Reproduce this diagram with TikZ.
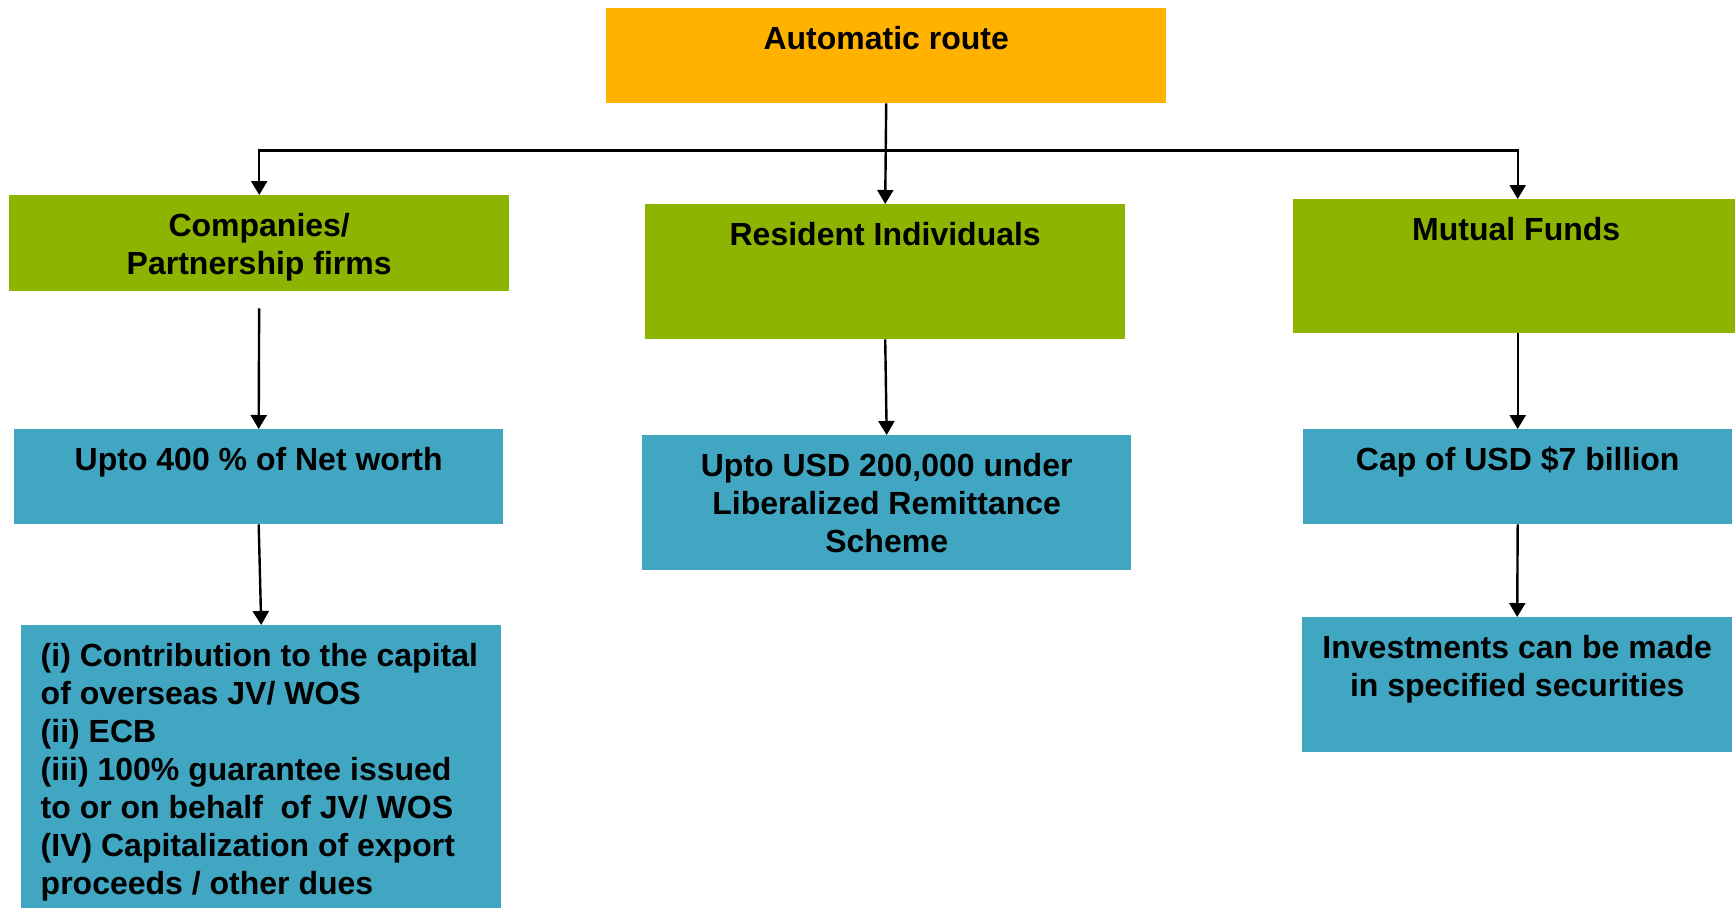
\documentclass[tikz,border=0pt]{standalone}
\usepackage{fontspec}
\setmainfont{Liberation Sans}
\usetikzlibrary{arrows.meta,calc}
\definecolor{orangebox}{RGB}{255,179,0}
\definecolor{greenbox}{RGB}{140,180,0}
\definecolor{bluebox}{RGB}{65,166,193}
\newcommand\myfnt{\fontsize{32}{38}\selectfont\bfseries}
\begin{document}
\begin{tikzpicture}[x=1pt,y=-1pt,
  box/.style={rectangle, draw=none, inner sep=0pt, anchor=north west},
  lbl/.style={anchor=north, inner sep=0pt, align=center, font=\myfnt},
  lbll/.style={anchor=north west, inner sep=0pt, align=left, font=\myfnt},
  arr/.style={-{Triangle[width=16pt,length=14pt]}, line width=2.4pt},
  ln/.style={line width=2.4pt}]
\useasboundingbox (0,0) rectangle (1735,908);
% boxes
\node[box, fill=orangebox, minimum width=560pt, minimum height=95pt] (auto) at (606,8) {};
\node[box, fill=greenbox, minimum width=500pt, minimum height=96pt] (comp) at (9,195) {};
\node[box, fill=greenbox, minimum width=480pt, minimum height=135pt] (res) at (645,204) {};
\node[box, fill=greenbox, minimum width=442pt, minimum height=134pt] (mf) at (1293,199) {};
\node[box, fill=bluebox, minimum width=489pt, minimum height=95pt] (upto) at (14,429) {};
\node[box, fill=bluebox, minimum width=489pt, minimum height=135pt] (usd) at (642,435) {};
\node[box, fill=bluebox, minimum width=429pt, minimum height=95pt] (cap) at (1303,429) {};
\node[box, fill=bluebox, minimum width=480pt, minimum height=283pt] (list) at (21,625) {};
\node[box, fill=bluebox, minimum width=430pt, minimum height=135pt] (inv) at (1302,617) {};
% texts
\node[lbl] (tauto) at ($(auto.north)+(0,15)$) {\strut Automatic route};
\node[lbl] (tcomp) at ($(comp.north)+(0,15)$) {\strut Companies/\\Partnership firms};
\node[lbl] (tres) at ($(res.north)+(0,15)$) {\strut Resident Individuals};
\node[lbl] (tmf) at ($(mf.north)+(2,15)$) {\strut Mutual Funds};
\node[lbl] (tupto) at ($(upto.north)+(0,15)$) {\strut Upto 400 \% of Net worth};
\node[lbl] (tusd) at ($(usd.north)+(0,15)$) {\strut Upto USD 200,000 under\\Liberalized Remittance\\Scheme};
\node[lbl] (tcap) at ($(cap.north)+(0,15)$) {\strut Cap of USD \$7 billion};
\node[lbl] (tinv) at ($(inv.north)+(0,15)$) {\strut Investments can be made\\in specified securities};
\node[lbll] (tlist) at ($(list.north west)+(19.5,15)$) {\strut (i) Contribution to the capital\\of overseas JV/ WOS\\(ii) ECB\\(iii) 100\% guarantee issued\\to or on behalf\ \ of JV/ WOS\\(IV) Capitalization of export\\proceeds / other dues};
% connectors
\coordinate (j) at ($(auto.south)+(0,47)$);
\draw[arr] (auto.south) -- (res.north);
\draw[arr] (j) -| (comp.north);
\draw[arr] (j) -| (cap.north |- mf.north);
\draw[arr, shorten <=17pt] (comp.south) -- (upto.north);
\draw[arr] (upto.south) -- (list.north);
\draw[arr] (res.south) -- (usd.north);
\draw[arr] (cap.north |- mf.south) -- (cap.north);
\draw[arr] (cap.south) -- (inv.north);
\end{tikzpicture}
\end{document}
